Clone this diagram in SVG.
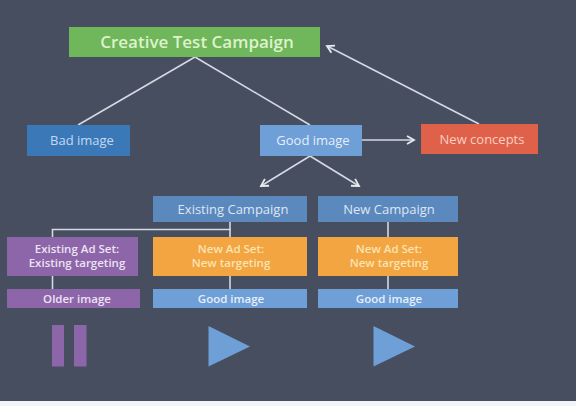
<svg xmlns="http://www.w3.org/2000/svg" width="576" height="406" viewBox="0 0 576 406">
<defs>
<style>
text{font-family:"Open Sans","Noto Sans","Liberation Sans",sans-serif;text-anchor:middle;}
.ln{stroke:#d4d9e2;stroke-width:1.6;fill:none;}
.t13{font-size:13px;}
.t12{font-size:11.5px;font-weight:600;}
</style>
<marker id="ah" markerWidth="10" markerHeight="10" refX="8" refY="5" orient="auto" markerUnits="userSpaceOnUse">
<path d="M1,1 L8,5 L1,9" fill="none" stroke="#e6e9ef" stroke-width="1.8"/>
</marker>
</defs>
<rect width="576" height="406" fill="#474e5f"/>
<rect y="401" width="576" height="5" fill="#f2f4f7"/>
<g id="connectors">
<line class="ln" x1="195" y1="57" x2="78" y2="125"/>
<line class="ln" x1="195" y1="57" x2="310" y2="125"/>
<line class="ln" x1="479" y1="124" x2="327" y2="46" marker-end="url(#ah)"/>
<line class="ln" x1="362" y1="140" x2="414" y2="140" marker-end="url(#ah)"/>
<line class="ln" x1="310" y1="156" x2="261" y2="186" marker-end="url(#ah)"/>
<line class="ln" x1="310" y1="156" x2="359" y2="186" marker-end="url(#ah)"/>
<polyline class="ln" points="230,222 230,229.5 52.5,229.5 52.5,237"/>
<line class="ln" x1="230" y1="229" x2="230" y2="237"/>
<line class="ln" x1="388" y1="222" x2="388" y2="237"/>
<line class="ln" x1="52.5" y1="276" x2="52.5" y2="289"/>
<line class="ln" x1="230" y1="276" x2="230" y2="289"/>
<line class="ln" x1="388" y1="276" x2="388" y2="289"/>
</g>
<g id="creative-test-campaign">
<rect x="69" y="27" width="251" height="30" fill="#70b65b"/>
<text x="197" y="48" font-size="17" font-weight="600" fill="#dcf3cc">Creative Test Campaign</text>
</g>
<g id="bad-image">
<rect x="27" y="125" width="103" height="31" fill="#3b78b8"/>
<text class="t13" x="82" y="145" fill="#c2d9f2">Bad image</text>
</g>
<g id="good-image">
<rect x="260" y="125" width="102" height="31" fill="#6e9fd7"/>
<text class="t13" x="313" y="145" fill="#e6eefa">Good image</text>
</g>
<g id="new-concepts">
<rect x="421" y="124" width="117" height="30" fill="#e0614a"/>
<text class="t13" x="482" y="144" fill="#f8cfc2">New concepts</text>
</g>
<g id="existing-campaign">
<rect x="153" y="196" width="154" height="26" fill="#5b88bd"/>
<text class="t13" x="233" y="213.5" fill="#dde7f3">Existing Campaign</text>
</g>
<g id="new-campaign">
<rect x="318" y="196" width="140" height="26" fill="#5b88bd"/>
<text class="t13" x="389" y="213.5" fill="#dde7f3">New Campaign</text>
</g>
<g id="existing-ad-set">
<rect x="7" y="237" width="131" height="39" fill="#8c66a8"/>
<text class="t12" x="77" y="253" fill="#ece2f4">Existing Ad Set:</text>
<text class="t12" x="77" y="266.5" fill="#ece2f4">Existing targeting</text>
</g>
<g id="new-ad-set-1">
<rect x="153" y="237" width="154" height="39" fill="#f2a540"/>
<text class="t12" x="231" y="253" fill="#fae3b4">New Ad Set:</text>
<text class="t12" x="231" y="266.5" fill="#fae3b4">New targeting</text>
</g>
<g id="new-ad-set-2">
<rect x="318" y="237" width="140" height="39" fill="#f2a540"/>
<text class="t12" x="389" y="253" fill="#fae3b4">New Ad Set:</text>
<text class="t12" x="389" y="266.5" fill="#fae3b4">New targeting</text>
</g>
<g id="older-image">
<rect x="7" y="289" width="133" height="19" fill="#8c66a8"/>
<text class="t12" x="77" y="302.5" fill="#ece2f4">Older image</text>
</g>
<g id="good-image-1">
<rect x="153" y="289" width="154" height="19" fill="#6e9fd7"/>
<text class="t12" x="231" y="302.5" fill="#e6eefa">Good image</text>
</g>
<g id="good-image-2">
<rect x="318" y="289" width="140" height="19" fill="#6e9fd7"/>
<text class="t12" x="389" y="302.5" fill="#e6eefa">Good image</text>
</g>
<g id="pause-icon">
<rect x="52" y="325" width="12" height="41.5" fill="#8c66a8"/>
<rect x="74" y="325" width="12.5" height="41.5" fill="#8c66a8"/>
</g>
<g id="play-icon-1">
<polygon points="208.5,326 208.5,366.5 250,346.5" fill="#6e9fd7"/>
</g>
<g id="play-icon-2">
<polygon points="373.5,326 373.5,366.5 415,346.5" fill="#6e9fd7"/>
</g>
</svg>
